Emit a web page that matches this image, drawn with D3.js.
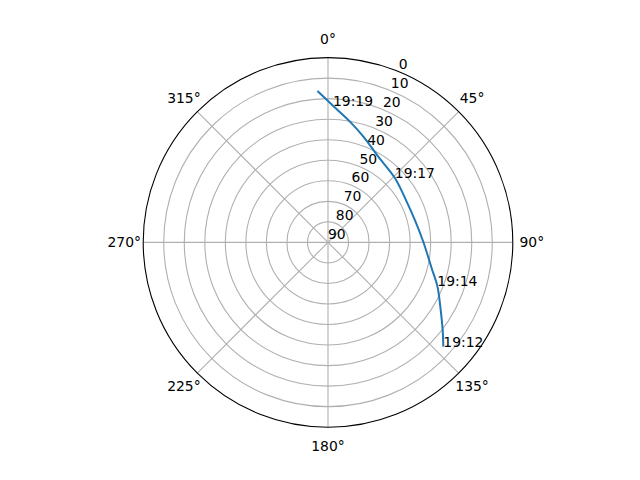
<!DOCTYPE html>
<html lang="en">
  <head>
    <meta charset="UTF-8" />
    <title>Sky track</title>
    <script src="https://d3js.org/d3.v7.min.js"></script>
    <style>
      body { margin: 0; background: #fff; }
      text { font-family: "DejaVu Sans", sans-serif; font-size: 13.9px; fill: #000; }
    </style>
  </head>
  <body>
    <div class="chart"></div>
  </body>

  <script>
    // azimuth (deg, clockwise from north) and elevation (deg) along the pass
    var azimuth = [132.1, 127.4, 122.1, 111.7, 104.8, 89.6, 75.6, 61.5, 46.1, 30.4, 18.5, 10.3, 2.1, 356.0];
    var elevation = [14.3, 19.7, 25.0, 32.7, 37.5, 43.6, 46.3, 46.8, 44.8, 41.6, 35.7, 30.2, 23.4, 16.1];

    // time labels, tied to points of the track
    var timeLabels = ["19:12", "19:14", "19:17", "19:19"];
    var timeIndex = [0, 3, 8, 12];

    var angleTicks = [0, 45, 90, 135, 180, 225, 270, 315];
    var radialTicks = [0, 10, 20, 30, 40, 50, 60, 70, 80, 90];

    var width = 640, height = 480;
    var cx = 328, cy = 242.4, R = 184.8;

    var svg = d3
      .select(".chart")
      .append("svg")
      .attr("width", width)
      .attr("height", height);

    var g = svg.append("g").attr("transform", "translate(" + cx + "," + cy + ")");

    // elevation 90 in the middle, 0 at the rim
    var rScale = d3.scaleLinear().domain([90, 0]).range([0, R]);
    var rad = function (deg) { return (deg * Math.PI) / 180; };

    // rings
    g.selectAll("circle.ring")
      .data(radialTicks.filter((d) => d > 0 && d < 90))
      .enter()
      .append("circle")
      .attr("class", "ring")
      .attr("r", (d) => rScale(d))
      .attr("fill", "none")
      .attr("stroke", "#b0b0b0")
      .attr("stroke-width", 1.1);

    // spokes
    g.selectAll("line.spoke")
      .data(angleTicks)
      .enter()
      .append("line")
      .attr("x1", 0)
      .attr("y1", 0)
      .attr("x2", (d) => R * Math.sin(rad(d)))
      .attr("y2", (d) => -R * Math.cos(rad(d)))
      .attr("stroke", "#b0b0b0")
      .attr("stroke-width", 1.1);

    // outer frame
    g.append("circle")
      .attr("r", R)
      .attr("fill", "none")
      .attr("stroke", "#000")
      .attr("stroke-width", 1.1);

    // angle labels
    g.selectAll("text.angle")
      .data(angleTicks)
      .enter()
      .append("text")
      .attr("x", (d) => (R + 19) * Math.sin(rad(d)))
      .attr("y", (d) => -(R + 19) * Math.cos(rad(d)))
      .attr("text-anchor", "middle")
      .attr("dominant-baseline", "central")
      .text((d) => d + "°");

    // radial labels along 22.5 deg
    g.selectAll("text.rlab")
      .data(radialTicks)
      .enter()
      .append("text")
      .attr("x", (d) => rScale(d) * Math.sin(rad(22.5)))
      .attr("y", (d) => -rScale(d) * Math.cos(rad(22.5)) - 3)
      .attr("text-anchor", "start")
      .text((d) => d);

    var track = azimuth.map((a, i) => ({ az: a, el: elevation[i] }));

    var line = d3
      .lineRadial()
      .angle((d) => rad(d.az))
      .radius((d) => rScale(d.el))
      .curve(d3.curveCatmullRom);

    g.append("path")
      .datum(track)
      .attr("d", line)
      .attr("fill", "none")
      .attr("stroke", "#1f77b4")
      .attr("stroke-width", 2);

    g.selectAll("text.time")
      .data(timeLabels)
      .enter()
      .append("text")
      .attr("x", (d, i) => rScale(track[timeIndex[i]].el) * Math.sin(rad(track[timeIndex[i]].az)))
      .attr("y", (d, i) => -rScale(track[timeIndex[i]].el) * Math.cos(rad(track[timeIndex[i]].az)))
      .attr("text-anchor", "start")
      .text((d) => d);
  </script>
</html>
